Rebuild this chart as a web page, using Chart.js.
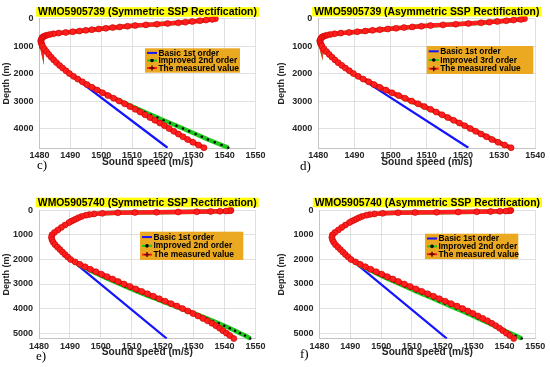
<!DOCTYPE html>
<html>
<head>
<meta charset="utf-8">
<script src="https://cdn.jsdelivr.net/npm/chart.js@4.4.1/dist/chart.umd.min.js"></script>
<style>
  body { margin: 0; background: #fff; }
  #wrap { position: relative; width: 550px; height: 367px; overflow: hidden; }
  canvas { position: absolute; }
  .tag { position: absolute; font-family: "Liberation Serif", "Times New Roman", serif; font-size: 13px; line-height: 13px; color: #000; }
</style>
</head>
<body>
<div id="wrap">
  <canvas id="pc" width="275" height="183" style="left:0;top:0"></canvas>
  <canvas id="pd" width="275" height="183" style="left:275px;top:0"></canvas>
  <canvas id="pe" width="275" height="184" style="left:0;top:183px"></canvas>
  <canvas id="pf" width="275" height="184" style="left:275px;top:183px"></canvas>
  <div class="tag" style="left:37px;top:158px">c)</div>
  <div class="tag" style="left:300px;top:159px">d)</div>
  <div class="tag" style="left:36px;top:349px">e)</div>
  <div class="tag" style="left:300px;top:347px">f)</div>
</div>
<script>
// tick labels
const xTicks = [1480, 1490, 1500, 1510, 1520, 1530, 1540, 1550];
const yTicks39 = [0, 1000, 2000, 3000, 4000];
const yTicks40 = [0, 1000, 2000, 3000, 4000, 5000];

// WMO5905739 profile (panels c, d): depth (m) and sound speed (m/s)
const depthUpper39 = [0, 25, 50, 75, 100, 125, 150, 175, 200, 225, 250, 275, 300, 325, 350, 375, 400, 425, 450, 475, 500, 525, 550, 575, 600, 625, 650, 675, 700, 750, 800, 850, 900, 950, 1000, 1100, 1200, 1300, 1400, 1500, 1600, 1700, 1800, 1900, 2000];
const speedUpper39 = [1537, 1536, 1534, 1532, 1529.5, 1527.3, 1525, 1521.5, 1518, 1514.5, 1511, 1508.5, 1506, 1503.7, 1501.5, 1499.2, 1497, 1495, 1493, 1490.8, 1488.5, 1486.2, 1484.5, 1483.3, 1482.4, 1481.8, 1481.3, 1481, 1480.8, 1480.6, 1480.4, 1480.5, 1480.6, 1480.8, 1481, 1481.6, 1482.3, 1483, 1483.8, 1484.6, 1485.5, 1486.5, 1487.5, 1488.6, 1489.7];
const depthDeep39 = [2100, 2200, 2300, 2400, 2500, 2600, 2700, 2800, 2900, 3000, 3100, 3200, 3300, 3400, 3500, 3600, 3700, 3800, 3900, 4000, 4100, 4200, 4300, 4400, 4500, 4600, 4700];
const measuredDeep39 = [1491, 1492.4, 1493.9, 1495.4, 1497, 1498.7, 1500.4, 1502.2, 1504, 1505.8, 1507.6, 1509.3, 1511, 1512.6, 1514.2, 1515.8, 1517.4, 1519, 1520.5, 1522, 1523.5, 1525, 1526.5, 1528, 1529.7, 1531.5, 1533.3];
const improved2ndDeep39 = [1491, 1492.4, 1493.9, 1495.4, 1497.1, 1498.8, 1500.6, 1502.4, 1504.3, 1506.2, 1508.1, 1510.1, 1512.1, 1514.1, 1516.1, 1518.2, 1520.2, 1522.3, 1524.4, 1526.5, 1528.5, 1530.6, 1532.6, 1534.6, 1536.8, 1539, 1541.2];
const improved3rdDeep39 = [1491, 1492.4, 1493.9, 1495.4, 1497, 1498.6, 1500.3, 1502.1, 1503.8, 1505.6, 1507.4, 1509.1, 1510.8, 1512.5, 1514.1, 1515.8, 1517.4, 1519, 1520.6, 1522.1, 1523.7, 1525.2, 1526.8, 1528.3, 1529.9, 1531.5, 1533.2];
const basicEndDepth39 = 4700;
const basicEndSpeed39 = 1521.5;

// WMO5905740 profile (panels e, f)
const depthUpper40 = [0, 10, 20, 30, 40, 50, 60, 70, 80, 90, 100, 125, 150, 175, 200, 250, 300, 350, 400, 450, 500, 600, 700, 800, 900, 1000, 1100, 1200, 1300, 1400, 1500, 1600, 1700, 1800, 1900, 2000];
const speedUpper40 = [1542, 1542, 1541.5, 1540.5, 1538.5, 1535.5, 1531, 1525, 1518, 1511, 1505.5, 1500.5, 1497.8, 1496.3, 1495.2, 1493.8, 1492.8, 1492, 1491.2, 1490.4, 1489.7, 1488.4, 1487.2, 1486.1, 1485, 1484.2, 1484, 1484.2, 1484.6, 1485.2, 1486, 1486.8, 1487.6, 1488.4, 1489.3, 1490.2];
const depthDeep40 = [2100, 2200, 2300, 2400, 2500, 2600, 2700, 2800, 2900, 3000, 3100, 3200, 3300, 3400, 3500, 3600, 3700, 3800, 3900, 4000, 4100, 4200, 4300, 4400, 4500, 4600, 4700, 4800, 4900, 5000, 5100, 5220];
const measuredDeep40 = [1491.7, 1493.2, 1494.9, 1496.6, 1498.4, 1500.2, 1502, 1503.8, 1505.6, 1507.5, 1509.4, 1511.3, 1513.2, 1515.1, 1517, 1518.9, 1520.8, 1522.7, 1524.6, 1526.4, 1528.1, 1529.8, 1531.4, 1533, 1534.5, 1535.9, 1537.2, 1538.4, 1539.5, 1540.6, 1541.7, 1543];
const improvedSymDeep40 = [1491.5, 1492.8, 1494.3, 1495.8, 1497.4, 1499.1, 1500.8, 1502.5, 1504.3, 1506.1, 1507.9, 1509.8, 1511.7, 1513.7, 1515.7, 1517.7, 1519.7, 1521.8, 1523.9, 1526, 1528.1, 1530.2, 1532.2, 1534.2, 1536.2, 1538.1, 1539.9, 1541.7, 1543.4, 1545, 1546.6, 1548.3];
const improvedAsymDeep40 = [1491.5, 1492.8, 1494.3, 1495.8, 1497.4, 1499, 1500.7, 1502.4, 1504.2, 1506, 1507.8, 1509.6, 1511.4, 1513.3, 1515.1, 1517, 1518.8, 1520.7, 1522.5, 1524.4, 1526.2, 1528, 1529.8, 1531.5, 1533.3, 1535, 1536.7, 1538.4, 1540.1, 1541.8, 1543.6, 1545.6];
const basicEndDepth40 = 5220;
const basicEndSpeed40 = 1521.3;

const RED = '#ff1f1f';
const GREEN = '#1fc81f';
const BLUE = '#1414ff';
const LEGEND_BG = '#eba821';
const SANS = "'Liberation Sans', Arial, Helvetica, sans-serif";

const pts = (depths, speeds) => depths.map((d, i) => ({ x: speeds[i], y: d }));

const decor = {
  id: 'decor',
  afterDatasetsDraw(chart, args, o) {
    const ctx = chart.ctx;
    const a = chart.chartArea;
    ctx.save();
    // title on yellow
    ctx.font = 'bold 10.4px ' + SANS;
    const tw = ctx.measureText(o.title).width;
    const cx = (a.left + a.right) / 2;
    ctx.fillStyle = '#ffff00';
    ctx.fillRect(cx - tw / 2 - 2, o.titleY - 4.8, tw + 4, 9.6);
    ctx.fillStyle = '#000';
    ctx.textAlign = 'center';
    ctx.textBaseline = 'middle';
    ctx.fillText(o.title, cx, o.titleY + 0.4);

    // legend box
    const b = o.box;
    ctx.fillStyle = LEGEND_BG;
    ctx.fillRect(b.x, b.y, b.w, b.h);
    ctx.font = 'bold 8.4px ' + SANS;
    ctx.textAlign = 'left';
    const items = [
      { text: 'Basic 1st order', color: BLUE, mark: null },
      { text: o.improvedLabel, color: GREEN, mark: 'dot' },
      { text: 'The measured value', color: RED, mark: 'plus' }
    ];
    items.forEach((it, i) => {
      const y = b.y + b.h * (0.5 + (i - 1) * 0.31);
      const x0 = b.x + 2, x1 = b.x + 12;
      ctx.strokeStyle = it.color;
      ctx.lineWidth = 2;
      ctx.beginPath(); ctx.moveTo(x0, y); ctx.lineTo(x1, y); ctx.stroke();
      const mx = (x0 + x1) / 2;
      if (it.mark === 'dot') {
        ctx.fillStyle = '#000';
        ctx.beginPath(); ctx.arc(mx, y, 1.8, 0, Math.PI * 2); ctx.fill();
      } else if (it.mark === 'plus') {
        ctx.strokeStyle = '#5a0000';
        ctx.lineWidth = 1.4;
        ctx.beginPath();
        ctx.moveTo(mx - 2.5, y); ctx.lineTo(mx + 2.5, y);
        ctx.moveTo(mx, y - 2.5); ctx.lineTo(mx, y + 2.5);
        ctx.stroke();
      }
      ctx.fillStyle = '#000';
      ctx.fillText(it.text, b.x + 13.5, y + 0.3);
    });
    ctx.restore();
  }
};

function buildPanel(id, p) {
  const canvas = document.getElementById(id);
  const W = canvas.width, H = canvas.height;
  return new Chart(canvas, {
    type: 'scatter',
    data: {
      datasets: [
        {
          label: 'The measured value',
          data: pts(p.depth, p.measured),
          showLine: true,
          borderColor: RED,
          borderWidth: 4.5,
          backgroundColor: RED,
          pointRadius: 3,
          pointBorderColor: '#c80000',
          pointBorderWidth: 0.6,
          order: 0,
          clip: false
        },
        {
          label: p.improvedLabel,
          data: pts(p.depth, p.improved),
          showLine: true,
          borderColor: GREEN,
          borderWidth: 4.5,
          pointRadius: 1.2,
          pointBackgroundColor: '#000',
          pointBorderWidth: 0,
          order: 1,
          clip: false
        },
        {
          label: 'Basic 1st order',
          data: pts(p.basicDepth, p.basic),
          showLine: true,
          borderColor: BLUE,
          borderWidth: 2.2,
          pointRadius: 0,
          order: 2
        }
      ]
    },
    options: {
      responsive: false,
      animation: false,
      events: [],
      layout: { padding: { left: 0, top: p.area.top, right: W - p.area.right, bottom: 0 } },
      plugins: {
        legend: { display: false },
        tooltip: { enabled: false },
        decor: { title: p.title, titleY: p.titleY, box: p.box, improvedLabel: p.improvedLabel }
      },
      scales: {
        x: {
          type: 'linear',
          min: 1480,
          max: p.xMax,
          afterBuildTicks: s => { s.ticks = xTicks.filter(v => v <= p.xMax).map(v => ({ value: v })); },
          afterFit: s => { s.height = H - p.area.bottom; },
          ticks: {
            autoSkip: false,
            padding: 2,
            color: '#262626',
            font: { family: SANS, size: 9, weight: 'bold' },
            maxRotation: 0,
            callback: v => String(v)
          },
          grid: { color: '#d8d8d8', lineWidth: 0.8, drawTicks: false },
          border: { color: '#c4c4c4' },
          title: {
            display: true,
            text: 'Sound speed (m/s)',
            color: '#262626',
            font: { family: SANS, size: 10.2, weight: 'bold' },
            padding: { top: 0, bottom: p.xTitlePad }
          }
        },
        y: {
          type: 'linear',
          reverse: true,
          min: 0,
          max: p.yMax,
          afterBuildTicks: s => { s.ticks = p.yTicks.map(v => ({ value: v })); },
          afterFit: s => { s.width = p.area.left; },
          ticks: {
            autoSkip: false,
            padding: 6,
            color: '#262626',
            font: { family: SANS, size: 9, weight: 'bold' },
            callback: v => String(v)
          },
          grid: { color: '#d8d8d8', lineWidth: 0.8, drawTicks: false },
          border: { color: '#c4c4c4' },
          title: {
            display: true,
            text: 'Depth (m)',
            color: '#262626',
            font: { family: SANS, size: 9, weight: 'bold' },
            padding: { top: 1.5, bottom: 0 }
          }
        }
      }
    },
    plugins: [decor]
  });
}

buildPanel('pc', {
  title: 'WMO5905739 (Symmetric SSP Rectification)',
  improvedLabel: 'Improved 2nd order',
  depth: depthUpper39.concat(depthDeep39),
  measured: speedUpper39.concat(measuredDeep39),
  improved: speedUpper39.concat(improved2ndDeep39),
  basicDepth: depthUpper39.concat([basicEndDepth39]),
  basic: speedUpper39.concat([basicEndSpeed39]),
  xMax: 1550, yMax: 4720, yTicks: yTicks39,
  area: { left: 39.5, right: 255.5, top: 18.7, bottom: 148.3 },
  titleY: 12, xTitlePad: 14.6,
  box: { x: 145, y: 48.3, w: 95, h: 24.4 }
});

buildPanel('pd', {
  title: 'WMO5905739 (Asymmetric SSP Rectification)',
  improvedLabel: 'Improved 3rd order',
  depth: depthUpper39.concat(depthDeep39),
  measured: speedUpper39.concat(measuredDeep39),
  improved: speedUpper39.concat(improved3rdDeep39),
  basicDepth: depthUpper39.concat([basicEndDepth39]),
  basic: speedUpper39.concat([basicEndSpeed39]),
  xMax: 1540, yMax: 4720, yTicks: yTicks39,
  area: { left: 43.3, right: 260.3, top: 18.7, bottom: 148.3 },
  titleY: 11.7, xTitlePad: 14.6,
  box: { x: 151.7, y: 46, w: 106.6, h: 28 }
});

buildPanel('pe', {
  title: 'WMO5905740 (Symmetric SSP Rectification)',
  improvedLabel: 'Improved 2nd order',
  depth: depthUpper40.concat(depthDeep40),
  measured: speedUpper40.concat(measuredDeep40),
  improved: speedUpper40.concat(improvedSymDeep40),
  basicDepth: depthUpper40.concat([basicEndDepth40]),
  basic: speedUpper40.concat([basicEndSpeed40]),
  xMax: 1550, yMax: 5230, yTicks: yTicks40,
  area: { left: 39, right: 255.5, top: 27.3, bottom: 155.8 },
  titleY: 19.5, xTitlePad: 8.9,
  box: { x: 140, y: 48.7, w: 103.3, h: 28.3 }
});

buildPanel('pf', {
  title: 'WMO5905740 (Asymmetric SSP Rectification)',
  improvedLabel: 'Improved 2nd order',
  depth: depthUpper40.concat(depthDeep40),
  measured: speedUpper40.concat(measuredDeep40),
  improved: speedUpper40.concat(improvedAsymDeep40),
  basicDepth: depthUpper40.concat([basicEndDepth40]),
  basic: speedUpper40.concat([basicEndSpeed40]),
  xMax: 1550, yMax: 5230, yTicks: yTicks40,
  area: { left: 44.5, right: 260.3, top: 27.3, bottom: 155.8 },
  titleY: 19.5, xTitlePad: 8.9,
  box: { x: 150, y: 50.7, w: 93.3, h: 25.3 }
});
</script>
</body>
</html>
